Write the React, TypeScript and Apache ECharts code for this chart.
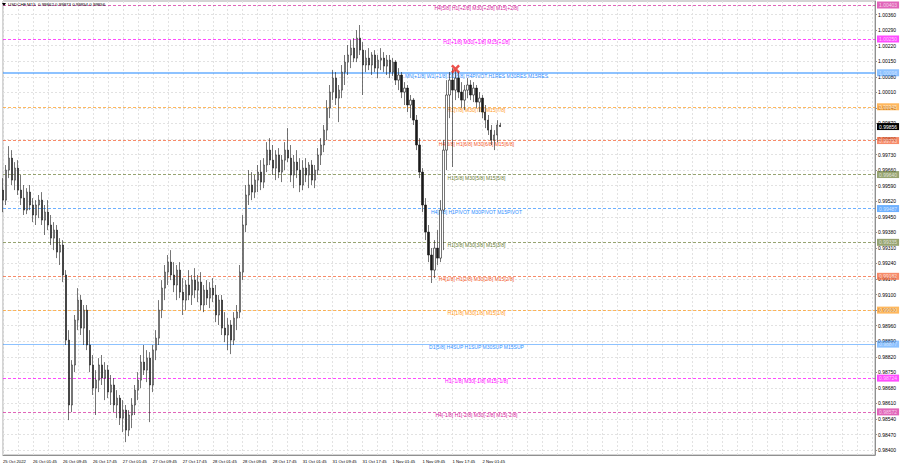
import React, { useEffect, useRef } from "react";
import * as echarts from "echarts";

const TITLE = "USDCHF,M15  0.99862 0.99873 0.99854 0.99856";

const timeTickLabels = [
  "25 Oct 2022", "26 Oct 01:45", "26 Oct 09:45", "26 Oct 17:45", "27 Oct 01:45",
  "27 Oct 09:45", "27 Oct 17:45", "28 Oct 01:45", "28 Oct 09:45", "28 Oct 17:45",
  "31 Oct 01:45", "31 Oct 09:45", "31 Oct 17:45", "1 Nov 01:45", "1 Nov 09:45",
  "1 Nov 17:45", "2 Nov 01:45",
];

const priceTicks = [
  0.984, 0.9847, 0.9854, 0.9861, 0.9868, 0.9875, 0.9882, 0.9889, 0.9896, 0.9903,
  0.991, 0.9917, 0.9924, 0.9931, 0.9938, 0.9945, 0.9952, 0.9959, 0.9966, 0.9973,
  0.998, 0.9987, 0.9994, 1.0001, 1.0008, 1.0015, 1.0022, 1.0029, 1.0036,
];

const levelValues = [
  1.00403, 1.0025, 1.00098, 0.99945, 0.99793, 0.9964, 0.99487, 0.99335, 0.99182,
  0.9903, 0.98877, 0.98724, 0.98572,
];

const levelTexts = [
  "H4[5/8] H1[+2/8] M30[+2/8] M15[+2/8]",
  "H1[+1/8] M30[+1/8] M15[+1/8]",
  "MN[+1/8] W1[+1/8] D1[6/8] H4PIVOT H1RES M30RES M15RES",
  "H1[7/8] M30[7/8] M15[7/8]",
  "H4[3/8] H1[6/8] M30[6/8] M15[6/8]",
  "H1[5/8] M30[5/8] M15[5/8]",
  "H4[2/8] H1PIVOT M30PIVOT M15PIVOT",
  "H1[3/8] M30[3/8] M15[3/8]",
  "H4[1/8] H1[2/8] M30[2/8] M15[2/8]",
  "H1[1/8] M30[1/8] M15[1/8]",
  "D1[5/8] H4SUP H1SUP M30SUP M15SUP",
  "H1[-1/8] M30[-1/8] M15[-1/8]",
  "H4[-1/8] H1[-2/8] M30[-2/8] M15[-2/8]",
];

const levelColors = [
  "#d4239b", "#ff00ff", "#2f8fff", "#ff9a1a", "#f45a2a", "#6b7d35", "#2f8fff",
  "#6b7d35", "#f45a2a", "#ff9a1a", "#2f8fff", "#ff00ff", "#d4239b",
];

// [open, close, low, high]
const candles = [
  [0.9957, 0.99525, 0.99471, 0.99624], [0.99525, 0.9966, 0.99503, 0.99683], [0.9966, 0.99714, 0.99624, 0.99768],
  [0.99714, 0.99615, 0.99593, 0.9975], [0.99615, 0.99669, 0.9957, 0.99696], [0.99669, 0.9957, 0.99548, 0.99705],
  [0.9957, 0.99534, 0.99503, 0.99638], [0.99534, 0.9948, 0.99458, 0.99593], [0.9948, 0.99561, 0.99462, 0.99579],
  [0.99561, 0.99503, 0.9948, 0.99593], [0.99503, 0.99458, 0.99426, 0.99534], [0.99458, 0.99503, 0.99413, 0.99525],
  [0.99503, 0.99525, 0.99444, 0.99548], [0.99525, 0.99435, 0.99413, 0.99561], [0.99435, 0.99471, 0.99368, 0.99503],
  [0.99471, 0.99413, 0.9939, 0.99525], [0.99413, 0.99354, 0.99323, 0.99458], [0.99354, 0.9939, 0.993, 0.99426],
  [0.9939, 0.99291, 0.99264, 0.99413], [0.99291, 0.99323, 0.99233, 0.99354], [0.99323, 0.99188, 0.99156, 0.99345],
  [0.99188, 0.98895, 0.98873, 0.9921], [0.98895, 0.98603, 0.98535, 0.9894], [0.98603, 0.98783, 0.98571, 0.98805],
  [0.98783, 0.98985, 0.98751, 0.99008], [0.98985, 0.99075, 0.9894, 0.99129], [0.99075, 0.98949, 0.98918, 0.99098],
  [0.98949, 0.9903, 0.98873, 0.99053], [0.9903, 0.98873, 0.9885, 0.99053], [0.98873, 0.98783, 0.98751, 0.9894],
  [0.98783, 0.98679, 0.98648, 0.98828], [0.98679, 0.98715, 0.98558, 0.9876], [0.98715, 0.98783, 0.98661, 0.98814],
  [0.98783, 0.98724, 0.98693, 0.98828], [0.98724, 0.9876, 0.98625, 0.98796], [0.9876, 0.98661, 0.98634, 0.98783],
  [0.98661, 0.98693, 0.98603, 0.98738], [0.98693, 0.98603, 0.98571, 0.98724], [0.98603, 0.98634, 0.98544, 0.9867],
  [0.98634, 0.98544, 0.98513, 0.98648], [0.98544, 0.9858, 0.98481, 0.98625], [0.9858, 0.9849, 0.98436, 0.98603],
  [0.9849, 0.98558, 0.98463, 0.9858], [0.98558, 0.98603, 0.98499, 0.98634], [0.98603, 0.9867, 0.98558, 0.98693],
  [0.9867, 0.98715, 0.98625, 0.98751], [0.98715, 0.98796, 0.98679, 0.98828], [0.98796, 0.9876, 0.98738, 0.98873],
  [0.9876, 0.98814, 0.98706, 0.9885], [0.98814, 0.98693, 0.98526, 0.98841], [0.98693, 0.9885, 0.98661, 0.98873],
  [0.9885, 0.98904, 0.98805, 0.9894], [0.98904, 0.9903, 0.98873, 0.99075], [0.9903, 0.99129, 0.98994, 0.99165],
  [0.99129, 0.99201, 0.99075, 0.99233], [0.99201, 0.99246, 0.99143, 0.99278], [0.99246, 0.99188, 0.99165, 0.993],
  [0.99188, 0.99143, 0.99111, 0.99246], [0.99143, 0.9921, 0.99075, 0.99233], [0.9921, 0.99111, 0.99084, 0.99246],
  [0.99111, 0.99075, 0.99008, 0.99174], [0.99075, 0.99143, 0.9903, 0.99165], [0.99143, 0.99098, 0.99075, 0.9921],
  [0.99098, 0.99165, 0.99053, 0.99188], [0.99165, 0.9912, 0.99084, 0.99219], [0.9912, 0.99156, 0.99066, 0.99188],
  [0.99156, 0.99053, 0.9903, 0.99201], [0.99053, 0.9912, 0.99021, 0.99143], [0.9912, 0.99084, 0.99053, 0.99165],
  [0.99084, 0.99129, 0.99039, 0.99156], [0.99129, 0.99098, 0.99066, 0.99174], [0.99098, 0.99008, 0.98976, 0.99143],
  [0.99008, 0.99075, 0.98963, 0.99098], [0.99075, 0.98949, 0.98918, 0.99098], [0.98949, 0.98918, 0.98886, 0.99021],
  [0.98918, 0.98963, 0.9885, 0.98994], [0.98963, 0.98895, 0.98832, 0.98985], [0.98895, 0.98994, 0.98873, 0.99021],
  [0.98994, 0.99021, 0.9894, 0.99053], [0.99021, 0.99201, 0.98994, 0.99233], [0.99201, 0.99413, 0.99165, 0.99458],
  [0.99413, 0.99548, 0.99381, 0.99593], [0.99548, 0.99593, 0.99503, 0.9966], [0.99593, 0.99561, 0.99525, 0.99651],
  [0.99561, 0.99615, 0.99534, 0.99638], [0.99615, 0.99651, 0.99561, 0.99683], [0.99651, 0.99606, 0.9957, 0.99705],
  [0.99606, 0.99683, 0.99579, 0.99714], [0.99683, 0.9975, 0.99651, 0.99786], [0.9975, 0.99705, 0.99683, 0.99804],
  [0.99705, 0.99669, 0.99638, 0.99773], [0.99669, 0.99728, 0.99615, 0.9975], [0.99728, 0.99651, 0.99624, 0.99759],
  [0.99651, 0.99705, 0.99606, 0.99728], [0.99705, 0.9975, 0.9966, 0.99786], [0.9975, 0.99714, 0.99696, 0.99849],
  [0.99714, 0.99638, 0.99606, 0.99773], [0.99638, 0.99696, 0.99579, 0.99728], [0.99696, 0.9966, 0.99624, 0.9975],
  [0.9966, 0.99593, 0.99561, 0.99714], [0.99593, 0.99669, 0.9957, 0.99705], [0.99669, 0.99638, 0.99606, 0.99714],
  [0.99638, 0.99683, 0.99579, 0.99696], [0.99683, 0.99615, 0.99593, 0.99705], [0.99615, 0.9966, 0.99579, 0.99683],
  [0.9966, 0.99728, 0.99638, 0.99759], [0.99728, 0.99773, 0.99683, 0.99804], [0.99773, 0.9984, 0.99741, 0.99863],
  [0.9984, 0.99939, 0.99795, 0.99975], [0.99939, 1.00011, 0.99894, 1.00043], [1.00011, 1.00074, 0.99975, 1.0011],
  [1.00074, 0.99984, 0.99953, 1.00101], [0.99984, 1.0002, 0.99876, 1.00043], [1.0002, 1.00101, 0.99984, 1.00133],
  [1.00101, 1.00146, 1.00043, 1.00178], [1.00146, 1.00178, 1.00088, 1.00223], [1.00178, 1.00209, 1.00119, 1.00245],
  [1.00209, 1.00164, 1.00146, 1.00254], [1.00164, 1.00254, 1.00146, 1.0029], [1.00254, 1.002, 1.00178, 1.00313],
  [1.002, 1.00133, 0.99998, 1.00236], [1.00133, 1.00164, 1.00101, 1.002], [1.00164, 1.00133, 1.0011, 1.00209],
  [1.00133, 1.00178, 1.00088, 1.00191], [1.00178, 1.00119, 1.00101, 1.002], [1.00119, 1.00155, 1.00074, 1.00178],
  [1.00155, 1.00164, 1.0011, 1.00209], [1.00164, 1.00128, 1.00101, 1.00191], [1.00128, 1.00155, 1.00088, 1.00178],
  [1.00155, 1.00101, 1.00074, 1.00178], [1.00101, 1.00146, 1.00083, 1.00164], [1.00146, 1.00065, 1.00043, 1.00155],
  [1.00065, 1.00088, 1.0002, 1.00119], [1.00088, 1.00011, 0.99984, 1.00101], [1.00011, 1.00029, 0.99953, 1.00056],
  [1.00029, 0.99953, 0.99921, 1.00043], [0.99953, 0.99975, 0.99894, 0.99998], [0.99975, 0.99885, 0.99863, 0.99984],
  [0.99885, 0.99773, 0.9975, 0.99908], [0.99773, 0.99651, 0.99624, 0.99804], [0.99651, 0.99503, 0.99471, 0.99669],
  [0.99503, 0.99381, 0.99345, 0.99534], [0.99381, 0.99278, 0.99246, 0.99413], [0.99278, 0.9921, 0.99152, 0.99309],
  [0.9921, 0.99309, 0.99174, 0.99345], [0.99309, 0.99264, 0.99233, 0.9939], [0.99264, 0.9948, 0.99246, 0.99525],
  [0.9948, 0.9975, 0.993, 0.99795], [0.9975, 0.99998, 0.9966, 1.00065], [0.99998, 1.00065, 0.99894, 1.00101],
  [1.00065, 1.0002, 0.99674, 1.00119], [1.0002, 1.00074, 0.99975, 1.0011], [1.00074, 1.00011, 0.99984, 1.00101],
  [1.00011, 0.99975, 0.99939, 1.00056], [0.99975, 1.0002, 0.9993, 1.00043], [1.0002, 1.00043, 0.99984, 1.00074],
  [1.00043, 0.99998, 0.99975, 1.00065], [0.99998, 1.00029, 0.99966, 1.00056], [1.00029, 0.99966, 0.99939, 1.00043],
  [0.99966, 0.99984, 0.99921, 1.00011], [0.99984, 0.99921, 0.99894, 0.99998], [0.99921, 0.99885, 0.99849, 0.99953],
  [0.99885, 0.9984, 0.99818, 0.99908], [0.9984, 0.99795, 0.99773, 0.99863], [0.99795, 0.99818, 0.9975, 0.9984],
  [0.99818, 0.99863, 0.99786, 0.99885], [0.99862, 0.99856, 0.99854, 0.99873],
];

const lastPrice = 0.99856;
const markerIndex = 151;
const markerPrice = 1.00115;
const levelLabelIndex = 158;
const TOTAL_SLOTS = 292;

const FONT = "'Liberation Sans', Arial, sans-serif";

export default function App() {
  const ref = useRef<HTMLDivElement>(null);

  useEffect(() => {
    if (!ref.current) return;
    const chart = echarts.init(ref.current, undefined, { renderer: "svg" });

    const categories: string[] = [];
    timeTickLabels.forEach((l) => {
      categories.push(l);
      for (let k = 1; k < 10; k++) categories.push("s" + categories.length);
    });
    while (categories.length < TOTAL_SLOTS) categories.push("s" + categories.length);

    const boxLabel = (text: string, bg: string) => ({
      show: true,
      position: "end",
      distance: 2,
      formatter: text,
      backgroundColor: bg,
      color: "#ffffff",
      fontSize: 5,
      fontFamily: FONT,
      padding: [1, 2, 1, 2],
    });

    const levelLines: any[] = levelValues.map((v, i) => {
      const solid = i === 2 || i === 10;
      return {
        yAxis: v,
        lineStyle: {
          color: levelColors[i],
          type: solid ? "solid" : [3, 2],
          width: i === 2 ? 2 : 1,
          opacity: solid ? 0.55 : 0.7,
        },
        label: boxLabel(v.toFixed(5), levelColors[i]),
      };
    });
    levelLines.push({
      yAxis: lastPrice,
      lineStyle: { color: "rgba(0,0,0,0)", type: "solid", width: 0 },
      label: boxLabel(lastPrice.toFixed(5), "#000000"),
    });

    const levelTextPoints = levelValues.map((v, i) => ({
      coord: [levelLabelIndex, v],
      symbol: "circle",
      symbolSize: 0,
      label: {
        show: true,
        position: "bottom",
        distance: 0.5,
        formatter: levelTexts[i],
        color: levelColors[i],
        fontSize: 5,
        fontFamily: FONT,
      },
    }));

    chart.setOption({
      animation: false,
      backgroundColor: "#ffffff",
      grid: {
        left: 1,
        right: 25,
        top: 1,
        bottom: 13,
        show: true,
        borderColor: "#a8a8a8",
        borderWidth: 1,
      },
      xAxis: {
        type: "category",
        data: categories,
        boundaryGap: false,
        z: 0,
        axisLine: { show: true, lineStyle: { color: "#909090" } },
        axisTick: { show: false },
        axisLabel: {
          interval: 9,
          align: "left",
          margin: 4,
          fontSize: 4.2,
          color: "#000",
          fontFamily: FONT,
          formatter: (v: string) => (timeTickLabels.includes(v) ? v : ""),
        },
        splitLine: {
          show: true,
          interval: 4,
          lineStyle: { color: "#e2e2e2", type: [2, 2], width: 1 },
        },
      },
      yAxis: {
        type: "value",
        position: "right",
        min: 0.98378,
        max: 1.00421,
        scale: true,
        z: 0,
        axisLine: { show: true, lineStyle: { color: "#909090" } },
        axisTick: { show: true, length: 2, customValues: priceTicks, lineStyle: { color: "#909090" } },
        axisLabel: {
          customValues: priceTicks,
          margin: 3,
          fontSize: 5,
          color: "#000",
          fontFamily: FONT,
          formatter: (v: number) => v.toFixed(5),
        },
        splitLine: {
          show: true,
          lineStyle: { color: "#e2e2e2", type: [2, 2], width: 1 },
        },
      },
      series: [
        {
          type: "candlestick",
          data: candles,
          barWidth: 1.6,
          z: 6,
          itemStyle: {
            color: "#ffffff",
            color0: "#1a1a1a",
            borderColor: "#1a1a1a",
            borderColor0: "#1a1a1a",
            borderWidth: 0.6,
          },
        },
        {
          type: "scatter",
          data: [[markerIndex, markerPrice]],
          symbol:
            "path://M2,0 L5,3 L8,0 L10,2 L7,5 L10,8 L8,10 L5,7 L2,10 L0,8 L3,5 L0,2 Z",
          symbolSize: 9,
          itemStyle: { color: "#e8251f" },
          z: 10,
          silent: true,
          markLine: {
            silent: true,
            symbol: ["none", "none"],
            precision: 5,
            z: 4,
            data: levelLines,
          },
          markPoint: {
            silent: true,
            z: 4,
            data: levelTextPoints,
          },
        },
      ],
      graphic: [
        {
          type: "polygon",
          shape: { points: [[2, 3], [6, 3], [4, 6]] },
          style: { fill: "#000" },
          z: 100,
        },
        {
          type: "text",
          x: 8,
          y: 2.5,
          style: { text: TITLE, fontSize: 4.4, fill: "#000", fontFamily: FONT },
          z: 100,
        },
      ],
    });

    return () => chart.dispose();
  }, []);

  return (
    <div
      ref={ref}
      style={{ position: "fixed", left: 0, top: 0, width: 900, height: 468 }}
    />
  );
}
